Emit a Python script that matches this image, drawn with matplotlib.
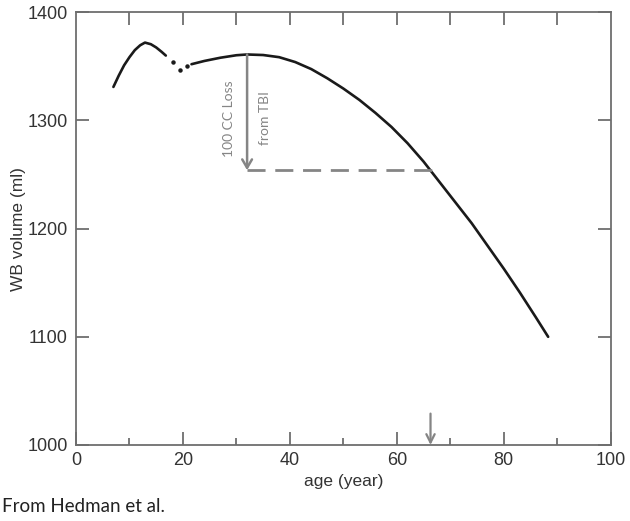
import matplotlib
matplotlib.use("Agg")
import matplotlib.pyplot as plt

# Data
age_early = [7.0, 8.0, 9.0, 10.0, 11.0, 12.0, 12.9, 14.0, 15.0, 16.0, 16.8]
vol_early = [1331, 1341.5, 1351, 1358.5, 1365, 1369.5, 1372, 1370.5, 1367.5, 1363.5, 1360]

age_dots = [18.2, 19.4, 20.8]
vol_dots = [1354.4, 1346.7, 1350.4]

age_late = [21.6, 24, 27, 30, 32, 35, 38, 41, 44, 47, 50, 53, 56, 59, 62, 65,
            68, 71, 74, 77, 80, 83, 86, 88.3]
vol_late = [1352, 1355, 1358, 1360.3, 1361, 1360.5, 1358.5, 1354, 1347.5, 1339,
            1329.5, 1319, 1307, 1294, 1279, 1262, 1243, 1224, 1205, 1184, 1163,
            1141, 1118, 1100]

loss_age = 32
loss_top = 1361
loss_bottom = 1254
cross_age = 66.5
marker_age = 66.3

xticks = [0, 20, 40, 60, 80, 100]
yticks = [1000, 1100, 1200, 1300, 1400]

fig = plt.figure(figsize=(6.3, 5.21), dpi=100)
ax = fig.add_axes([0.1206, 0.1459, 0.9694 - 0.1206, 0.9764 - 0.1459])

ax.plot(age_early, vol_early, color='#1a1a1a', lw=1.9, solid_capstyle='round')
ax.plot(age_dots, vol_dots, linestyle='none', marker='o', ms=2.2, color='#1a1a1a')
ax.plot(age_late, vol_late, color='#1a1a1a', lw=1.9, solid_capstyle='round')

gray = '#858585'
ax.plot([loss_age, cross_age], [loss_bottom, loss_bottom], color=gray, lw=2.0,
        dashes=(6.5, 3.5))
ax.annotate('', xy=(loss_age, loss_bottom), xytext=(loss_age, loss_top),
            arrowprops=dict(arrowstyle='->,head_length=0.6,head_width=0.35',
                            color=gray, lw=1.8, shrinkA=0, shrinkB=0))
ax.annotate('', xy=(marker_age, 1000), xytext=(marker_age, 1029),
            arrowprops=dict(arrowstyle='->,head_length=0.6,head_width=0.3',
                            color=gray, lw=1.6, shrinkA=0, shrinkB=0))

ax.text(loss_age - 3.4, 1302, '100 CC Loss', rotation=90, ha='center', va='center',
        color=gray, fontsize=10, family='Lato')
ax.text(loss_age + 3.3, 1302, 'from TBI', rotation=90, ha='center', va='center',
        color=gray, fontsize=10, family='Lato')

ax.set_xlim(0, 100)
ax.set_ylim(1000, 1400)
ax.set_xticks(xticks)
ax.set_xticks([10, 30, 50, 70, 90], minor=True)
ax.set_yticks(yticks)

spine_c = '#6e6e6e'
for s in ax.spines.values():
    s.set_color(spine_c)
    s.set_linewidth(1.3)

ax.tick_params(axis='x', which='major', direction='in', length=9.5, width=1.3,
               color=spine_c, labelsize=13, labelcolor='#333333', pad=5)
ax.tick_params(axis='x', which='minor', direction='in', length=5, width=1.3,
               color=spine_c)
ax.tick_params(axis='y', which='major', direction='in', length=9.5, width=1.3,
               color=spine_c, labelsize=13, labelcolor='#333333', right=True, pad=6)
for lab in ax.get_xticklabels() + ax.get_yticklabels():
    lab.set_family('Liberation Sans')

top = ax.secondary_xaxis('top')
top.set_xticks([10, 20, 30, 40, 50, 60, 70, 80, 90])
top.tick_params(direction='in', length=9.5, width=1.3, color=spine_c, labeltop=False)
top.spines['top'].set_visible(False)

ax.set_xlabel('age (year)', fontsize=12.5, color='#333333', family='Liberation Sans',
              labelpad=4)
ax.set_ylabel('WB volume (ml)', fontsize=12.5, color='#333333', family='Liberation Sans',
              labelpad=1)

fig.text(0.003, 1 - 506 / 521, 'From Hedman et al.', ha='left', va='center',
         fontsize=13.5, family='Lato', color='#222222')

fig.savefig('out.png', dpi=100)
